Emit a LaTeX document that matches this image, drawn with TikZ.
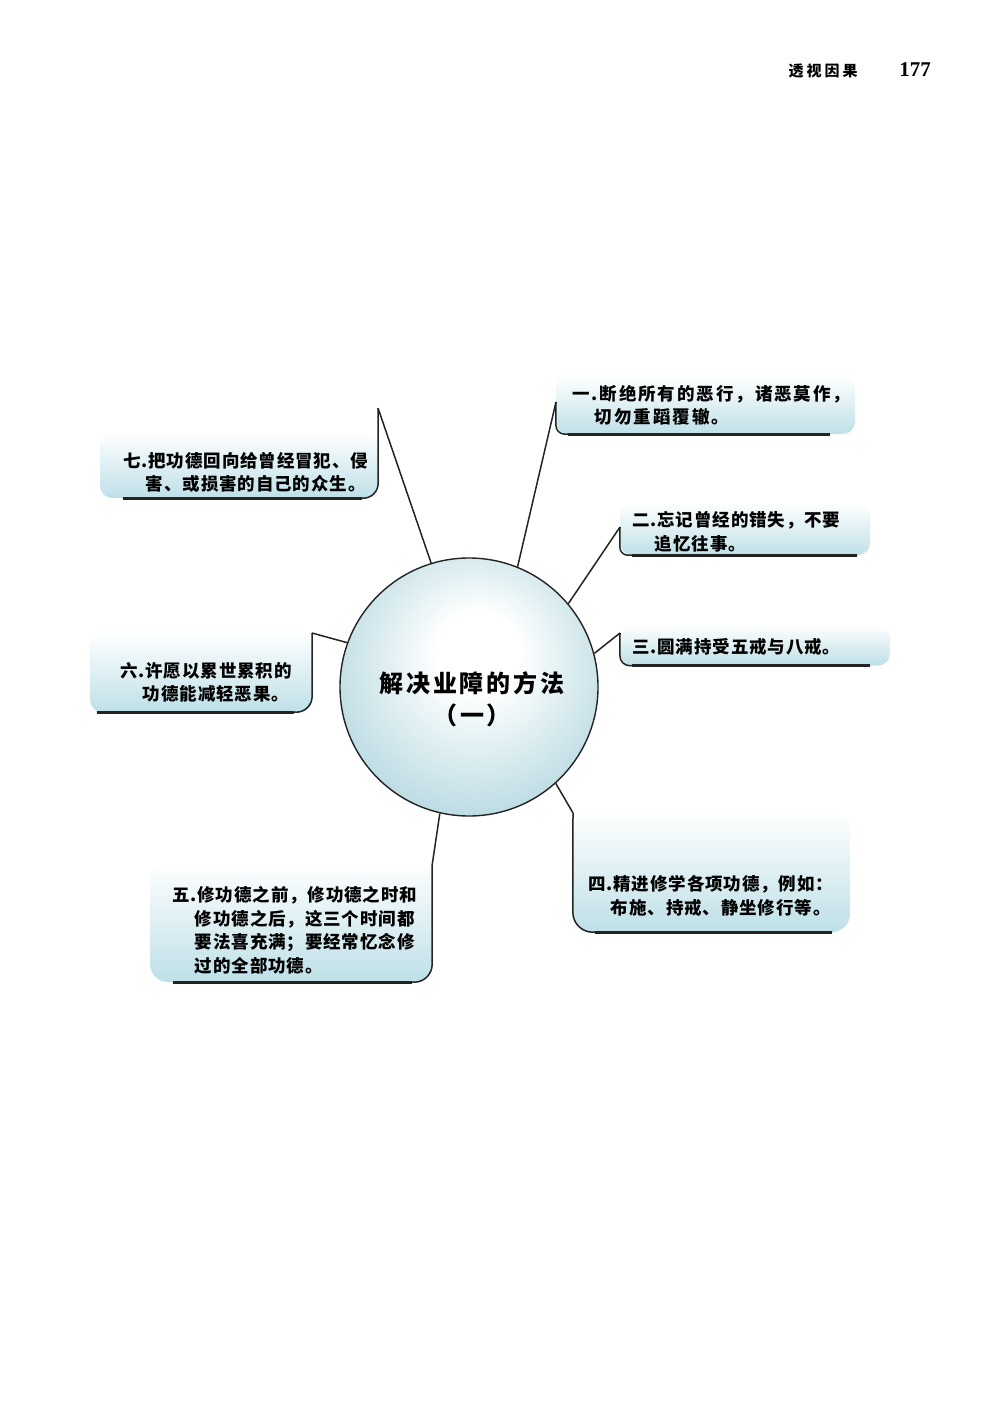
\documentclass[tikz,border=0pt]{standalone}
\usepackage{fontspec}
\newfontfamily\cjk[LetterSpace=5]{Noto Sans CJK SC}
\newfontfamily\cjkwide[LetterSpace=11]{Noto Sans CJK SC}
\newfontfamily\cjktitle[LetterSpace=12]{Noto Sans CJK SC}
\newfontfamily\cjkhead[LetterSpace=20]{Noto Sans CJK SC}
\newfontfamily\numfont{Liberation Serif}
\definecolor{hubblue}{RGB}{118,184,198}
\definecolor{panelblue}{RGB}{190,224,232}
\definecolor{inkline}{RGB}{35,35,35}
\pgfdeclareradialshading{hubglow}{\pgfpoint{2bp}{8bp}}{color(0bp)=(white); color(8bp)=(white); color(50bp)=(hubblue)}
\newcommand{\indentcjk}{\hspace*{1.3em}}
\begin{document}
\begin{tikzpicture}[x = 1pt, y = -1pt,
    hub/.style = {circle, draw = inkline, line width = 1.4pt, shading = hubglow, minimum size = 258pt, inner sep = 0pt},
    panel/.style = {rounded corners = 12pt, top color = white, bottom color = panelblue, inner sep = 0pt},
    item/.style = {align = left, inner sep = 0pt, anchor = west, font = \cjk\bfseries\fontsize{17.5}{23.5}\selectfont},
    spoke/.style = {draw = inkline, line width = 1.5pt},
    rim/.style = {draw = inkline, line width = 1.5pt, rounded corners = 12pt},
    sill/.style = {draw = inkline, line width = 2.6pt}]
    \useasboundingbox (0, 0) rectangle (1000, 1415);
    % running head
    \node [font = \cjkhead\bfseries\fontsize{15}{18}\selectfont, anchor = west] (runhead) at (785, 71) {透视因果};
    \node [font = \numfont\bfseries\fontsize{21}{24}\selectfont] (folio) at (915, 70) {177};

    % panels
    \node [panel, minimum width = 299pt, minimum height = 58pt] (p1) at (705.5, 405) {};
    \node [panel, minimum width = 250pt, minimum height = 52pt] (p2) at (745, 529) {};
    \node [panel, minimum width = 270pt, minimum height = 40pt] (p3) at (755, 645.5) {};
    \node [panel, minimum width = 277pt, minimum height = 120pt, rounded corners = 18pt] (p4) at (711.5, 872) {};
    \node [panel, minimum width = 282pt, minimum height = 120pt, rounded corners = 18pt] (p5) at (291, 922) {};
    \node [panel, minimum width = 222pt, minimum height = 80pt] (p6) at (201, 672) {};
    \node [panel, minimum width = 278pt, minimum height = 66pt] (p7) at (239, 465) {};

    \coordinate (k1) at (556, 402);
    \coordinate (k2) at (620, 527);
    \coordinate (k3) at (620, 633);
    \coordinate (k4) at (573, 813);
    \coordinate (k5) at (432, 866);
    \coordinate (k6) at (312, 633);
    \coordinate (k7) at (378, 408);

    \node [hub] (hub) at (469, 687) {};

    % pointers from the hub
    \draw [spoke] (hub.68) -- (k1);
    \draw [spoke] (hub.40) -- (k2);
    \draw [spoke] (hub.15) -- (k3);
    \draw [spoke] (hub.-48) -- (k4);
    \draw [spoke] (hub.-103) -- (k5);
    \draw [spoke] (hub.160) -- (k6);
    \draw [spoke] (hub.107) -- (k7);

    % outlined sides
    \draw [rim, rounded corners = 9pt] (k1) -- (p1.south west) -- ([xshift = -25pt] p1.south east);
    \draw [rim, rounded corners = 8pt] (k2) -- (p2.south west) -- ([xshift = -13pt] p2.south east);
    \draw [rim, rounded corners = 10pt] (k3) -- (p3.south west) -- ([xshift = -20pt] p3.south east);
    \draw [rim, rounded corners = 20pt] (k4) -- (p4.south west) -- ([xshift = -18pt] p4.south east);
    \draw [rim, rounded corners = 18pt] (k5) -- (p5.south east) -- ([xshift = 23pt] p5.south west);
    \draw [rim, rounded corners = 16pt] (k6) -- (p6.south east) -- ([xshift = 7pt] p6.south west);
    \draw [rim, rounded corners = 15pt] (k7) -- (p7.south east) -- ([xshift = 23pt] p7.south west);
    \draw [sill] ([xshift = 12pt] p1.south west) -- ([xshift = -25pt] p1.south east);
    \draw [sill] ([xshift = 12pt] p2.south west) -- ([xshift = -13pt] p2.south east);
    \draw [sill] ([xshift = 12pt] p3.south west) -- ([xshift = -20pt] p3.south east);
    \draw [sill] ([xshift = 22pt] p4.south west) -- ([xshift = -18pt] p4.south east);
    \draw [sill] ([xshift = -20pt] p5.south east) -- ([xshift = 23pt] p5.south west);
    \draw [sill] ([xshift = -18pt] p6.south east) -- ([xshift = 7pt] p6.south west);
    \draw [sill] ([xshift = -16pt] p7.south east) -- ([xshift = 23pt] p7.south west);

    % texts
    \node [font = \cjktitle\bfseries\fontsize{24}{32}\selectfont, align = center] (title) at (472, 699) {解决业障的方法\\（一）};
    \node [item, font = \cjkwide\bfseries\fontsize{17.5}{23.5}\selectfont] (t1) at (572, 405.5) {一.断绝所有的恶行，诸恶莫作，\\\indentcjk 切勿重蹈覆辙。};
    \node [item] (t2) at (632, 532) {二.忘记曾经的错失，不要\\\indentcjk 追忆往事。};
    \node [item] (t3) at (632, 647) {三.圆满持受五戒与八戒。};
    \node [item] (t4) at (588, 896) {四.精进修学各项功德，例如：\\\indentcjk 布施、持戒、静坐修行等。};
    \node [item] (t5) at (172, 930) {五.修功德之前，修功德之时和\\\indentcjk 修功德之后，这三个时间都\\\indentcjk 要法喜充满；要经常忆念修\\\indentcjk 过的全部功德。};
    \node [item] (t6) at (120, 682.5) {六.许愿以累世累积的\\\indentcjk 功德能减轻恶果。};
    \node [item] (t7) at (123, 472.5) {七.把功德回向给曾经冒犯、侵\\\indentcjk 害、或损害的自己的众生。};
\end{tikzpicture}
\end{document}
